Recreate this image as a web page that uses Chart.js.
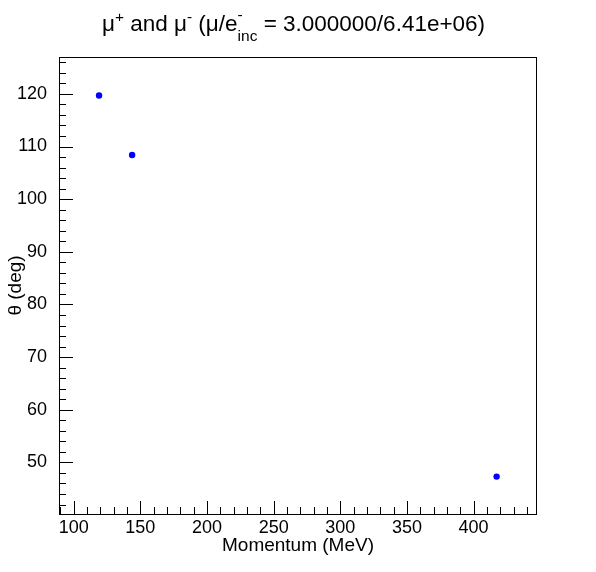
<!DOCTYPE html>
<html><head><meta charset="utf-8">
<script src="https://cdn.jsdelivr.net/npm/chart.js@4"></script>
<style>html,body{margin:0;padding:0;background:#fff}#wrap{width:596px;height:572px}</style>
</head><body><div id="wrap"><canvas id="c" width="596" height="572"></canvas></div>
<script>
// ---- data ----
const momentum = [119.0, 143.8, 417.3];   // MeV
const theta    = [119.7, 108.4, 47.3];    // deg
const xTickValues = [100, 150, 200, 250, 300, 350, 400];
const yTickValues = [50, 60, 70, 80, 90, 100, 110, 120];
const xRange = [88.95, 447.6];
const yRange = [40.2, 127.0];
const xTitle = 'Momentum (MeV)';
const yTitle = 'θ (deg)';

const FONT = '"Liberation Sans", Arial, sans-serif';

const rootStyle = {
  id: 'rootStyle',
  afterDraw(chart) {
    const ctx = chart.ctx, a = chart.chartArea;
    const xs = chart.scales.x, ys = chart.scales.y;
    ctx.save();
    ctx.strokeStyle = '#000';
    ctx.lineWidth = 1;
    // frame
    ctx.strokeRect(Math.round(a.left) + 0.5, Math.round(a.top) + 0.5,
                   Math.round(a.right - a.left) - 1, Math.round(a.bottom - a.top));
    ctx.beginPath();
    // y ticks (inside, from left)
    for (let v = Math.ceil(ys.min / 2) * 2; v <= ys.max; v += 2) {
      const y = Math.round(ys.getPixelForValue(v)) + 0.5;
      const len = (v % 10 === 0) ? 14 : 7;
      ctx.moveTo(Math.round(a.left), y); ctx.lineTo(Math.round(a.left) + len, y);
    }
    // x ticks (inside, from bottom)
    for (let v = Math.ceil(xs.min / 10) * 10; v <= xs.max; v += 10) {
      const x = Math.round(xs.getPixelForValue(v)) + 0.5;
      const len = (v % 50 === 0) ? 13 : 7;
      ctx.moveTo(x, Math.round(a.bottom)); ctx.lineTo(x, Math.round(a.bottom) - len);
    }
    ctx.stroke();

    // title with super/subscripts
    const main = '22.5px ' + FONT, small = '15.5px ' + FONT;
    const parts = [
      {t: 'μ', f: main, dy: 0},
      {t: '+', f: small, dy: -9},
      {t: ' and μ', f: main, dy: 0},
      {t: '-', f: small, dy: -9},
      {t: ' (μ/e', f: main, dy: 0},
      {stack: [{t: '-', f: small, dy: -11}, {t: 'inc', f: small, dy: 10}]},
      {t: ' = 3.000000/6.41e+06)', f: main, dy: 0}
    ];
    let total = 0;
    const widths = parts.map(p => {
      let w;
      if (p.stack) { w = Math.max(...p.stack.map(s => { ctx.font = s.f; return ctx.measureText(s.t).width; })); }
      else { ctx.font = p.f; w = ctx.measureText(p.t).width; }
      total += w; return w;
    });
    let x = 293.5 - total / 2;
    const base = 31;
    ctx.fillStyle = '#000';
    ctx.textBaseline = 'alphabetic';
    ctx.textAlign = 'left';
    parts.forEach((p, i) => {
      const items = p.stack ? p.stack : [p];
      items.forEach(s => { ctx.font = s.f; ctx.fillText(s.t, x, base + s.dy); });
      x += widths[i];
    });
    ctx.restore();
  }
};

new Chart(document.getElementById('c'), {
  type: 'scatter',
  data: {
    datasets: [{
      data: momentum.map((m, i) => ({x: m, y: theta[i]})),
      backgroundColor: '#0000ff',
      borderWidth: 0,
      pointRadius: 3.2,
      pointHoverRadius: 3.2
    }]
  },
  options: {
    responsive: false,
    animation: false,
    devicePixelRatio: 1,
    layout: {padding: {top: 57, right: 59, bottom: 0, left: 0}},
    plugins: {legend: {display: false}, title: {display: false}, tooltip: {enabled: false}},
    scales: {
      x: {
        type: 'linear', min: xRange[0], max: xRange[1],
        afterFit(s) { s.height = 58; },
        afterBuildTicks(s) { s.ticks = xTickValues.map(v => ({value: v})); },
        grid: {display: false, drawTicks: false},
        border: {display: false},
        ticks: {color: '#000', font: {family: FONT, size: 18}, padding: 3, maxRotation: 0, autoSkip: false},
        title: {display: true, text: xTitle, color: '#000', font: {family: FONT, size: 19}, padding: {top: 0, bottom: 15}}
      },
      y: {
        type: 'linear', min: yRange[0], max: yRange[1],
        afterFit(s) { s.width = 59; },
        afterBuildTicks(s) { s.ticks = yTickValues.map(v => ({value: v})); },
        grid: {display: false, drawTicks: false},
        border: {display: false},
        ticks: {color: '#000', font: {family: FONT, size: 18}, padding: 12, autoSkip: false},
        title: {display: true, text: yTitle, color: '#000', font: {family: FONT, size: 19}, padding: {top: 4, bottom: 0}}
      }
    }
  },
  plugins: [rootStyle]
});
</script></body></html>
